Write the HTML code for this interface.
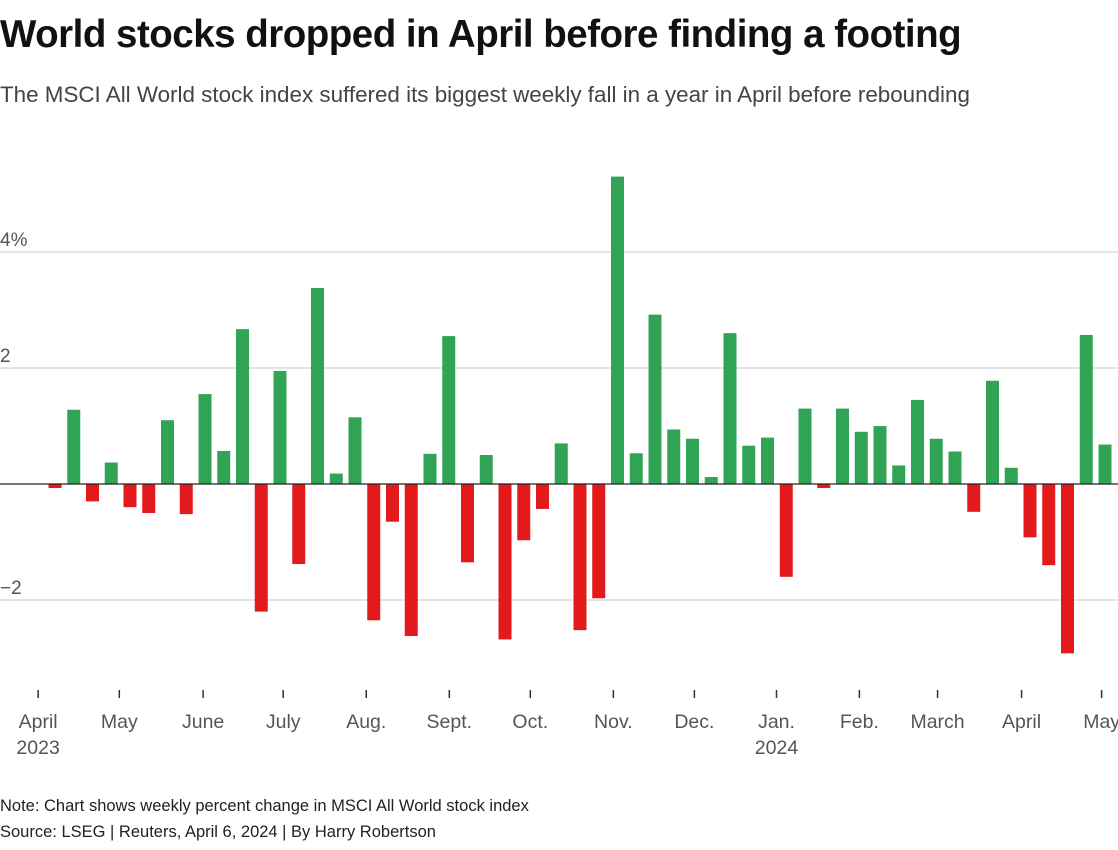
<!DOCTYPE html>
<html><head><meta charset="utf-8"><style>
body{margin:0;width:1118px;height:850px;background:#fff;font-family:"Liberation Sans",sans-serif;overflow:hidden;position:relative}
h1{position:absolute;left:0;top:13px;margin:0;font-size:38.5px;font-weight:bold;color:#111;letter-spacing:-0.5px}
.sub{position:absolute;left:0;top:82px;font-size:22.4px;color:#444}
.note{position:absolute;left:0;font-size:16.5px;color:#222}
</style></head><body>
<h1>World stocks dropped in April before finding a footing</h1>
<div class="sub">The MSCI All World stock index suffered its biggest weekly fall in a year in April before rebounding</div>
<svg id="chart" width="1118" height="850" style="position:absolute;left:0;top:0"></svg>
<div class="note" style="top:797px">Note: Chart shows weekly percent change in MSCI All World stock index</div>
<div class="note" style="top:823px">Source: LSEG | Reuters, April 6, 2024 | By Harry Robertson</div>
<script>
const values=[-0.07,1.28,-0.3,0.37,-0.4,-0.5,1.1,-0.52,1.55,0.57,2.67,-2.2,1.95,-1.38,3.38,0.18,1.15,-2.35,-0.65,-2.62,0.52,2.55,-1.35,0.5,-2.68,-0.97,-0.43,0.7,-2.52,-1.97,5.3,0.53,2.92,0.94,0.78,0.12,2.6,0.66,0.8,-1.6,1.3,-0.07,1.3,0.9,1.0,0.32,1.45,0.78,0.56,-0.48,1.78,0.28,-0.92,-1.4,-2.92,2.57,0.68];
const yTicks=[4,2,-2];
const yTickLabels=["4%","2","\u22122"];
const monthLabels=["April","May","June","July","Aug.","Sept.","Oct.","Nov.","Dec.","Jan.","Feb.","March","April","May"];
const monthYears=["2023","","","","","","","","","2024","","","",""];
const monthWeekPos=[-0.9,3.43,7.9,12.17,16.6,21.03,25.35,29.78,34.1,38.48,42.9,47.07,51.55,55.82];
const svg=document.getElementById('chart');
const NS='http://www.w3.org/2000/svg';
const y=v=>484-v*58;
const x=i=>55+i*18.75;
function mk(t,a){const e=document.createElementNS(NS,t);for(const k in a)e.setAttribute(k,a[k]);svg.appendChild(e);return e;}
yTicks.forEach((t,i)=>{
 const l=mk('line',{x1:0,x2:1118,y1:y(t),y2:y(t),stroke:'#c8c8c8','stroke-width':1});
 
 
 const tx=mk('text',{x:0,y:y(t)-6,'font-size':19,fill:'#555','font-family':'Liberation Sans, sans-serif'});
 tx.textContent=yTickLabels[i];
 
 
});
values.forEach((v,i)=>{
 const r=mk('rect',{x:x(i)-6.5,width:13,y:Math.min(y(v),y(0)),height:Math.abs(y(v)-y(0)),fill:v>=0?'#31a354':'#e31a1c'});
 
 
});
const z=mk('line',{x1:0,x2:1118,y1:y(0),y2:y(0),stroke:'#222','stroke-width':1.2});


monthLabels.forEach((m,i)=>{
 const px=x(monthWeekPos[i]);
 const t=mk('line',{x1:px,x2:px,y1:690,y2:698,stroke:'#333','stroke-width':1.5});
 
 
 const tx=mk('text',{x:px,y:728,'text-anchor':'middle','font-size':19.5,fill:'#555','font-family':'Liberation Sans, sans-serif'});
 tx.textContent=m;
 
 
 if(monthYears[i]){
  const ty=mk('text',{x:px,y:754,'text-anchor':'middle','font-size':19.5,fill:'#555','font-family':'Liberation Sans, sans-serif'});
  ty.textContent=monthYears[i];
  
  
 }
});
</script>
</body></html>
